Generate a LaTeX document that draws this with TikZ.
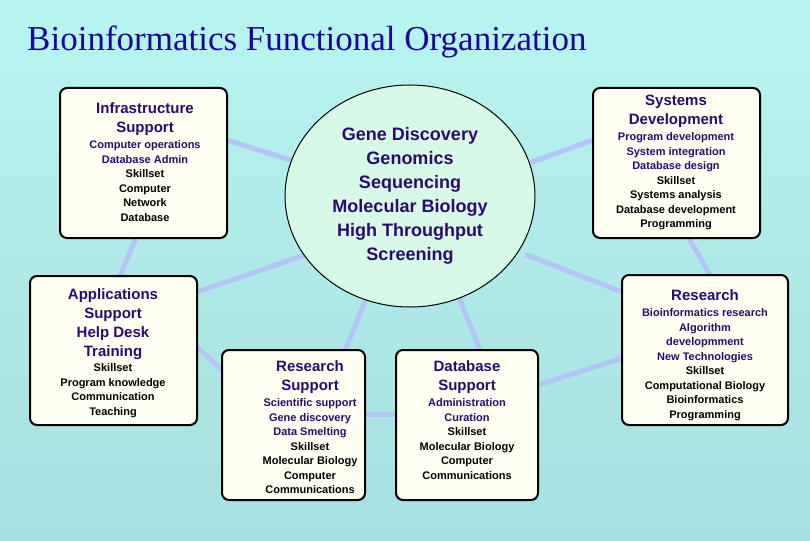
\documentclass[tikz,border=0pt]{standalone}
\usepackage{fontspec}
\setmainfont{Liberation Sans}
\newfontfamily\titlefont{Liberation Serif}
\definecolor{bgtop}{HTML}{B8F4F0}
\definecolor{bgbot}{HTML}{A6E0E0}
\definecolor{ink}{HTML}{2A0A70}
\definecolor{conn}{HTML}{B4C4F4}
\definecolor{boxfill}{HTML}{FFFFF2}
\definecolor{circfill}{HTML}{D8F8E8}
\begin{document}
\begin{tikzpicture}[x=1pt,y=-1pt,
  box/.style={draw=black,line width=2pt,rounded corners=7pt,fill=boxfill},
  con/.style={draw=conn,line width=5pt,line cap=round},
  hd/.style={font=\fontsize{15}{19}\selectfont\bfseries,text=ink,align=center},
  sb/.style={font=\fontsize{11}{14.5}\selectfont\bfseries,align=center}]
\shade[top color=bgtop,bottom color=bgbot] (0,0) rectangle (810,540);
\useasboundingbox (0,0) rectangle (810,540);
\node[anchor=west,text=ink!70!blue,font=\titlefont\fontsize{35}{35}\selectfont,inner sep=0pt] (title) at (27,42) {Bioinformatics Functional Organization};
% connector coordinates
\coordinate (c1) at (290,160); \coordinate (c2) at (302,256); \coordinate (c3) at (365,302);
\coordinate (c4) at (460,300); \coordinate (c5) at (527,255); \coordinate (c6) at (532,162);
\draw[con] (227,140) -- (c1);
\draw[con] (135,240) -- (120,276);
\draw[con] (197,292) -- (c2);
\draw[con] (197,347) -- (222,370);
\draw[con] (c3) -- (345,350);
\draw[con] (c4) -- (480,350);
\draw[con] (365,414) -- (396,414);
\draw[con] (c5) -- (622,292);
\draw[con] (538,385) -- (622,358);
\draw[con] (690,240) -- (710,275);
\draw[con] (593,140) -- (c6);
% boxes
\draw[box] (60,88) rectangle (227,238);
\draw[box] (593,88) rectangle (760,238);
\draw[box] (30,276) rectangle (197,425);
\draw[box] (622,275) rectangle (788,425);
\draw[box] (222,350) rectangle (365,500);
\draw[box] (396,350) rectangle (538,500);
\draw[fill=circfill,line width=1pt] (410,196) ellipse (125 and 111);
% texts
\node[hd,anchor=north] (infh) at (145,99) {Infrastructure\\Support};
\node[sb,anchor=north] (infs) at (145,137) {\textcolor{ink}{Computer operations}\\\textcolor{ink}{Database Admin}\\Skillset\\Computer\\Network\\Database};
\node[hd,anchor=north] (sysh) at (676,91) {Systems\\Development};
\node[sb,anchor=north] (syss) at (676,129) {\textcolor{ink}{Program development}\\\textcolor{ink}{System integration}\\\textcolor{ink}{Database design}\\Skillset\\Systems analysis\\Database development\\Programming};
\node[hd,anchor=north] (apph) at (113,285) {Applications\\Support\\Help Desk\\Training};
\node[sb,anchor=north] (apps) at (113,360) {Skillset\\Program knowledge\\Communication\\Teaching};
\node[hd,anchor=north] (resh) at (705,286) {Research};
\node[sb,anchor=north] (ress) at (705,305) {\textcolor{ink}{Bioinformatics research}\\\textcolor{ink}{Algorithm}\\\textcolor{ink}{developmment}\\\textcolor{ink}{New Technologies}\\Skillset\\Computational Biology\\Bioinformatics\\Programming};
\node[hd,anchor=north] (rsh) at (310,357) {Research\\Support};
\node[sb,anchor=north] (rss) at (310,395) {\textcolor{ink}{Scientific support}\\\textcolor{ink}{Gene discovery}\\\textcolor{ink}{Data Smelting}\\Skillset\\Molecular Biology\\Computer\\Communications};
\node[hd,anchor=north] (dbh) at (467,357) {Database\\Support};
\node[sb,anchor=north] (dbs) at (467,395) {\textcolor{ink}{Administration}\\\textcolor{ink}{Curation}\\Skillset\\Molecular Biology\\Computer\\Communications};
\node[font=\fontsize{18}{24}\selectfont\bfseries,text=ink,align=center] (circt) at (410,196) {Gene Discovery\\Genomics\\Sequencing\\Molecular Biology\\High Throughput\\Screening};
\end{tikzpicture}
\end{document}
